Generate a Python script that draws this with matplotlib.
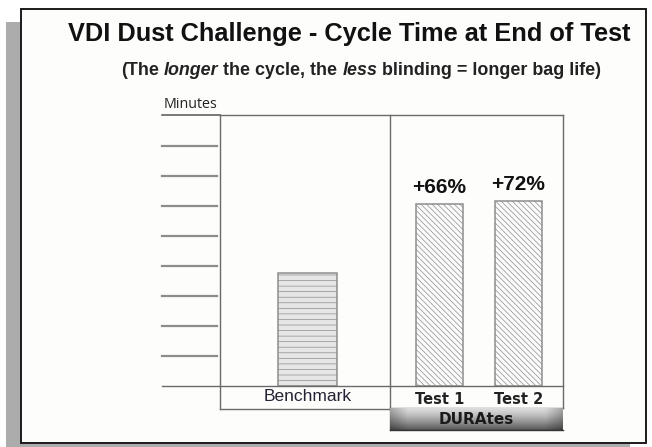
import matplotlib
matplotlib.use("Agg")
import matplotlib.pyplot as plt
import numpy as np
from matplotlib.lines import Line2D
from matplotlib.patches import Rectangle

# ---- data ----
categories = ["Benchmark", "Test 1", "Test 2"]
values = [3.77, 6.07, 6.17]          # minutes (axis unlabeled)
pct_labels = ["", "+66%", "+72%"]
tick_values = [1, 2, 3, 4, 5, 6, 7, 8]
group_label = "DURAtes"
title = "VDI Dust Challenge - Cycle Time at End of Test"
subtitle_parts = [("(The", False), ("longer", True), ("the cycle, the", False),
                  ("less", True), ("blinding = longer bag life)", False)]

# ---- layout (positions/styles) ----
x_pos = [0.0, 1.671, 2.671]
bar_widths = [0.747, 0.595, 0.595]
xlim = (-1.108, 3.234)
ylim = (0, 9.03)

W, H = 652, 447
plt.rcParams['hatch.linewidth'] = 0.5
plt.rcParams['hatch.color'] = '#d6d6d6'
fig = plt.figure(figsize=(W / 100, H / 100), dpi=100)
fig.patch.set_facecolor('white')

def fx(x):
    return x / W

def fy(y):
    return 1 - y / H

def fline(x0, y0, x1, y1, **kw):
    fig.add_artist(Line2D([fx(x0), fx(x1)], [fy(y0), fy(y1)],
                          transform=fig.transFigure, **kw))

# shadow + frame
fig.add_artist(Rectangle((fx(6), fy(447)), fx(624), (447 - 22) / H,
                         transform=fig.transFigure, facecolor='#acacac',
                         edgecolor='none', zorder=0))
fig.add_artist(Rectangle((fx(20.5), fy(442.5)), fx(625), 433.5 / H,
                         transform=fig.transFigure, facecolor='#fdfdfc',
                         edgecolor='#1a1a1a', linewidth=1.4, zorder=1))

# title
fig.text(fx(349), fy(34), title, ha='center', va='center',
         fontsize=18.3, fontweight='bold', family='Liberation Sans',
         color='#111111', zorder=5)

# subtitle built from pieces (italic words)
renderer = fig.canvas.get_renderer()
sub_fs = 12.9
sub_kw = dict(fontsize=sub_fs, fontweight='bold', family='Liberation Sans',
              color='#222222', va='baseline', ha='left', zorder=5)
def twidth(s, italic):
    t = fig.text(0, 0, s, style='italic' if italic else 'normal', **sub_kw)
    w = t.get_window_extent(renderer).width
    t.remove()
    return w
space_w = twidth("a a", False) - twidth("aa", False)
widths = [twidth(s, it) for s, it in subtitle_parts]
total = sum(widths) + space_w * (len(widths) - 1)
cx = 361 - total / 2
for (s, it), w in zip(subtitle_parts, widths):
    fig.text(fx(cx), fy(75), s, style='italic' if it else 'normal', **sub_kw)
    cx += w + space_w

# main axes
ax = fig.add_axes([fx(220), fy(386), (563 - 220) / W, (386 - 115) / H], zorder=3)
ax.set_xlim(*xlim)
ax.set_ylim(*ylim)
ax.patch.set_alpha(0)
for s in ax.spines.values():
    s.set_visible(False)

hatches = ['---', '\\' * 6, '\\' * 6]
faces = ['#e6e6e6', '#fbfbfb', '#fbfbfb']
for xp, v, w, h, fc in zip(x_pos, values, bar_widths, hatches, faces):
    ax.bar(xp, v, width=w, color=fc, hatch=h, edgecolor='#8e8e8e',
           linewidth=1.1, zorder=3)
for xp, v, lab in zip(x_pos, values, pct_labels):
    if lab:
        ax.text(xp, v + 0.22, lab, ha='center', va='bottom', fontsize=15,
                fontweight='bold', family='Liberation Sans', color='#111111')

# y "ticks" as short grey lines to the left of the box
ax.set_yticks([])
tr = ax.get_yaxis_transform()
for t in tick_values:
    ax.add_line(Line2D([-0.169, -0.01], [t, t], transform=tr, color='#8c8c8c',
                       linewidth=1.6, clip_on=False))
ax.add_line(Line2D([-0.169, 0.0], [ylim[1], ylim[1]], transform=tr,
                   color='#555555', linewidth=1.1, clip_on=False))
ax.text(-0.087, ylim[1] + 0.1, "Minutes", transform=tr, ha='center',
        va='bottom', fontsize=10.3, family='Open Sans', color='#222222')

# x labels
ax.set_xticks(x_pos)
ax.set_xticklabels(categories)
ax.tick_params(axis='x', length=0, pad=2)
for i, tl in enumerate(ax.get_xticklabels()):
    if i == 0:
        tl.set_fontsize(12.5)
        tl.set_family('Liberation Sans')
        tl.set_color('#222233')
    else:
        tl.set_fontsize(10.5)
        tl.set_fontweight('bold')
        tl.set_family('Liberation Sans Narrow')
        tl.set_color('#222222')
        tl.set_y(-0.012)

# box lines
lc = '#6a6a6a'
fline(162, 386, 563, 386, color=lc, linewidth=1.0, zorder=4)   # baseline
fline(220, 115, 563, 115, color=lc, linewidth=1.0, zorder=4)   # top
fline(220, 115, 220, 409, color=lc, linewidth=1.0, zorder=4)   # left
fline(220, 409, 390, 409, color=lc, linewidth=1.0, zorder=4)   # left bottom
fline(390, 115, 390, 430, color=lc, linewidth=1.0, zorder=4)   # divider
fline(563, 115, 563, 408, color=lc, linewidth=1.0, zorder=4)   # right
fline(390, 408, 563, 408, color=lc, linewidth=1.0, zorder=4)

# DURAtes gradient band
gax = fig.add_axes([fx(390), fy(430), (563 - 390) / W, (430 - 408) / H], zorder=4)
yy = np.linspace(0, 1, 40)[:, None]
xx = np.linspace(-1, 1, 200)[None, :]
v = 0.86 - 0.52 * yy ** 1.3
edge = 1 - 0.25 * np.clip((np.abs(xx) - 0.8) / 0.2, 0, 1)
img = np.clip(v * edge, 0, 1)
gax.imshow(img, cmap='gray', vmin=0, vmax=1, aspect='auto', extent=[0, 1, 0, 1],
           origin='upper')
gax.set_axis_off()
gax.text(0.5, 0.5, group_label, ha='center', va='center', fontsize=11,
         fontweight='bold', family='Liberation Sans Narrow', color='#1a1a1a',
         transform=gax.transAxes)
fline(390, 430, 563, 430, color='#333333', linewidth=1.0, zorder=5)

fig.savefig("out.png", dpi=100, facecolor='white')
